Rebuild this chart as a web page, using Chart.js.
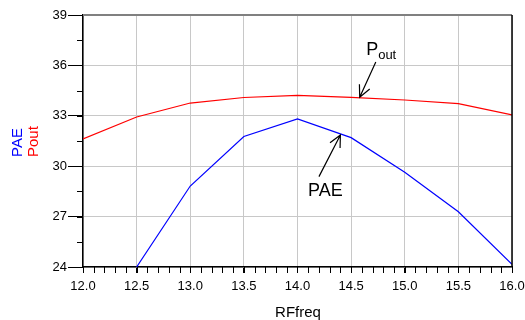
<!DOCTYPE html>
<html>
<head>
<meta charset="utf-8">
<script src="https://cdn.jsdelivr.net/npm/chart.js@4"></script>
<style>
  html, body { margin: 0; padding: 0; background: #fff; }
  #wrap { width: 525px; height: 320px; }
</style>
</head>
<body>
<div id="wrap"><canvas id="chart" width="525" height="320"></canvas></div>
<script>
// dati
const freq = [12.0, 12.5, 13.0, 13.5, 14.0, 14.5, 15.0, 15.5, 16.0];
const pout = [31.62, 32.93, 33.76, 34.09, 34.21, 34.10, 33.94, 33.72, 33.05];
const pae = [null, 24.0, 28.82, 31.77, 32.81, 31.70, 29.64, 27.29, 24.16];
const xTicks = [12.0, 12.5, 13.0, 13.5, 14.0, 14.5, 15.0, 15.5, 16.0];
const yTicks = [24, 27, 30, 33, 36, 39];

const FONT = "'Liberation Sans', Arial, sans-serif";

function pts(arr) {
  return freq.map((f, i) => ({ x: f, y: arr[i] }));
}

// tacche minori, bordi, titoli assi e frecce
const extras = {
  id: 'extras',
  afterDraw(chart) {
    const c = chart.ctx;
    const xs = chart.scales.x, ys = chart.scales.y;
    const a = chart.chartArea;
    c.save();

    // tacche minori
    c.strokeStyle = '#000';
    c.lineWidth = 1;
    c.beginPath();
    for (let v = 12; v <= 16.001; v += 0.1) {
      const px = Math.round(xs.getPixelForValue(v)) + 0.5;
      c.moveTo(px, a.bottom);
      c.lineTo(px, a.bottom + 6);
    }
    for (let v = 24; v <= 39.001; v += 1.5) {
      const py = Math.round(ys.getPixelForValue(v)) + 0.5;
      c.moveTo(a.left - 6, py);
      c.lineTo(a.left, py);
    }
    c.stroke();

    // bordo superiore grigio e destro nero
    c.strokeStyle = '#808080';
    c.lineWidth = 2;
    c.beginPath();
    c.moveTo(a.left, a.top);
    c.lineTo(a.right, a.top);
    c.stroke();
    c.strokeStyle = '#000';
    c.lineWidth = 1.5;
    c.beginPath();
    c.moveTo(a.right, a.top);
    c.lineTo(a.right, a.bottom);
    c.stroke();

    // titoli assi
    c.font = '15px ' + FONT;
    c.fillStyle = '#000';
    c.textAlign = 'center';
    c.textBaseline = 'alphabetic';
    c.fillText('RFfreq', 298, 317);

    c.save();
    c.translate(22, 157);
    c.rotate(-Math.PI / 2);
    c.textAlign = 'left';
    c.fillStyle = '#0000ff';
    c.fillText('PAE', 0, 0);
    c.restore();
    c.save();
    c.translate(38, 157);
    c.rotate(-Math.PI / 2);
    c.textAlign = 'left';
    c.fillStyle = '#ff0000';
    c.fillText('Pout', 0, 0);
    c.restore();

    // frecce
    function arrow(x1, y1, x2, y2) {
      const p1x = xs.getPixelForValue(x1), p1y = ys.getPixelForValue(y1);
      const p2x = xs.getPixelForValue(x2), p2y = ys.getPixelForValue(y2);
      const ang = Math.atan2(p2y - p1y, p2x - p1x);
      c.strokeStyle = '#000';
      c.lineWidth = 1.2;
      c.beginPath();
      c.moveTo(p1x, p1y);
      c.lineTo(p2x, p2y);
      c.moveTo(p2x - 13 * Math.cos(ang - 0.45), p2y - 13 * Math.sin(ang - 0.45));
      c.lineTo(p2x, p2y);
      c.lineTo(p2x - 13 * Math.cos(ang + 0.45), p2y - 13 * Math.sin(ang + 0.45));
      c.stroke();
    }
    arrow(14.73, 36.2, 14.58, 34.1);
    arrow(14.20, 29.38, 14.40, 31.86);

    // etichette
    c.fillStyle = '#000';
    c.textAlign = 'left';
    c.font = '18px ' + FONT;
    const lx = xs.getPixelForValue(14.64), ly = ys.getPixelForValue(36.6);
    c.fillText('P', lx, ly);
    const pw = c.measureText('P').width;
    c.font = '13px ' + FONT;
    c.fillText('out', lx + pw, ly + 4);

    c.font = '18px ' + FONT;
    c.textAlign = 'center';
    c.fillText('PAE', xs.getPixelForValue(14.26), ys.getPixelForValue(28.2));

    c.restore();
  }
};

let ctx = document.querySelector('#chart');

const myChart = new Chart(ctx, {
  type: 'line',
  data: {
    datasets: [{
      label: 'Pout',
      data: pts(pout),
      borderColor: '#ff0000',
      borderWidth: 1.2,
      pointRadius: 0,
      tension: 0,
    }, {
      label: 'PAE',
      data: pts(pae),
      borderColor: '#0000ff',
      borderWidth: 1.2,
      pointRadius: 0,
      tension: 0,
    }]
  },
  options: {
    responsive: false,
    animation: false,
    layout: { padding: { top: 15, right: 13, left: 0, bottom: 0 } },
    plugins: {
      legend: { display: false },
      tooltip: { enabled: false }
    },
    scales: {
      x: {
        type: 'linear',
        min: 12, max: 16,
        afterBuildTicks: (s) => { s.ticks = xTicks.map(v => ({ value: v })); },
        afterFit: (s) => { s.height = 53; s.paddingLeft = 0; s.paddingRight = 0; },
        ticks: {
          color: '#000',
          font: { family: FONT, size: 13 },
          padding: 6,
          maxRotation: 0,
          callback: (v) => v.toFixed(1)
        },
        grid: { color: '#c8c8c8', tickColor: '#000', tickLength: 6, lineWidth: 1 },
        border: { color: '#000', width: 1.5 }
      },
      y: {
        min: 24, max: 39,
        afterBuildTicks: (s) => { s.ticks = yTicks.map(v => ({ value: v })); },
        afterFit: (s) => { s.width = 83; s.paddingTop = 0; s.paddingBottom = 0; },
        ticks: {
          color: '#000',
          font: { family: FONT, size: 13 },
          padding: 1
        },
        grid: { color: '#c8c8c8', tickColor: '#000', tickLength: 15, lineWidth: 1 },
        border: { color: '#000', width: 1.5 }
      }
    }
  },
  plugins: [extras]
});
</script>
</body>
</html>
